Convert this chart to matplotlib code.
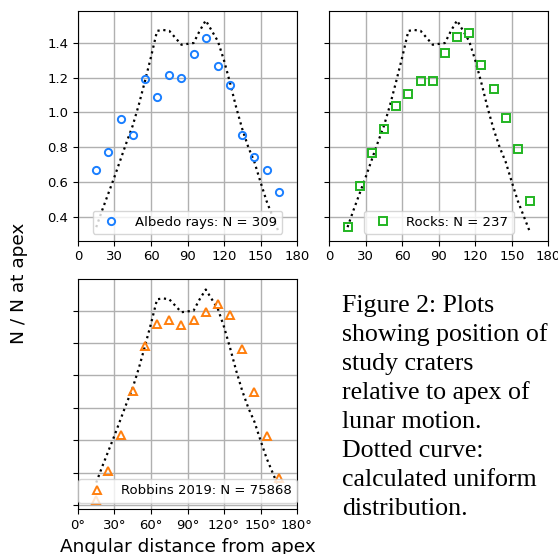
import matplotlib
matplotlib.use("Agg")
import matplotlib.pyplot as plt

# observed counts, 10-degree bins centred on 15..165
angles = [15, 25, 35, 45, 55, 65, 75, 85, 95, 105, 115, 125, 135, 145, 155, 165]
albedo = [0.67, 0.775, 0.96, 0.87, 1.195, 1.087, 1.213, 1.196, 1.338, 1.427,
          1.268, 1.156, 0.87, 0.745, 0.67, 0.544]
rocks = [0.343, 0.577, 0.765, 0.904, 1.04, 1.106, 1.181, 1.181, 1.34, 1.433,
         1.456, 1.273, 1.137, 0.971, 0.788, 0.49]
robbins = [0.233, 0.411, 0.632, 0.906, 1.179, 1.316, 1.345, 1.31, 1.341, 1.394,
           1.441, 1.371, 1.164, 0.898, 0.624, 0.37]

# calculated uniform distribution (dotted curve)
model_angles = [15, 20, 25, 30, 35, 40, 45, 50, 55, 60, 65, 70, 75, 80, 85, 90,
                95, 100, 105, 110, 115, 120, 125, 130, 135, 140, 145, 150, 155,
                160, 165]
model = [0.34, 0.44, 0.535, 0.63, 0.73, 0.83, 0.925, 1.045, 1.18, 1.32, 1.47,
         1.475, 1.47, 1.43, 1.39, 1.395, 1.40, 1.47, 1.53, 1.47, 1.41, 1.30,
         1.17, 1.03, 0.905, 0.80, 0.715, 0.60, 0.49, 0.40, 0.31]

xticks = [0, 30, 60, 90, 120, 150, 180]

caption = ["Figure 2: Plots", "showing position of", "study craters",
           "relative to apex of", "lunar motion.", "Dotted curve:",
           "calculated uniform", "distribution."]

W, H = 558, 554
fig = plt.figure(figsize=(W / 100, H / 100), dpi=100)


def px_axes(x0, y0, x1, y1):
    return fig.add_axes([x0 / W, 1 - y1 / H, (x1 - x0) / W, (y1 - y0) / H])


def panel(ax, values, marker, color, label, ylim):
    ax.plot(model_angles, model, ':', color='black', lw=1.6)
    ax.plot(angles, values, linestyle='none', marker=marker, ms=5.2, mew=1.4,
            mfc='none', mec=color, label=label)
    ax.set_xticks(xticks)
    ax.set_yticks([0.2, 0.4, 0.6, 0.8, 1.0, 1.2, 1.4])
    ax.set_xlim(0, 180)
    ax.set_ylim(*ylim)  # after set_yticks, which would widen the range
    ax.grid(True, color='#b0b0b0', lw=1.0)
    ax.tick_params(labelsize=9.5)
    ax.legend(loc='lower center', fontsize=9.5)


ax1 = px_axes(78, 10.7, 297, 240.7)
panel(ax1, albedo, 'o', '#1a7fff', 'Albedo rays: N = 309', (0.262, 1.586))

ax2 = px_axes(329.3, 10.7, 548.3, 240.7)
panel(ax2, rocks, 's', '#22b522', 'Rocks: N = 237', (0.262, 1.586))
ax2.set_yticklabels([])

ax3 = px_axes(78, 279.3, 297, 509.3)
panel(ax3, robbins, '^', '#ff7f0e', 'Robbins 2019: N = 75868', (0.175, 1.593))
ax3.set_yticklabels([])
ax3.set_xticklabels([f"{t}°" for t in xticks])

fig.text(19 / W, 1 - 283 / H, "N / N at apex", rotation=90, fontsize=13.3,
         ha='center', va='center')
fig.text(187.5 / W, 1 - 551.5 / H, "Angular distance from apex", fontsize=13.3,
         ha='center', va='baseline')

for i, line in enumerate(caption):
    fig.text(341.7 / W, 1 - (311.7 + 29 * i) / H, line, fontsize=18.6,
             family='Liberation Serif', ha='left', va='baseline')

fig.savefig("out.png", dpi=100)
